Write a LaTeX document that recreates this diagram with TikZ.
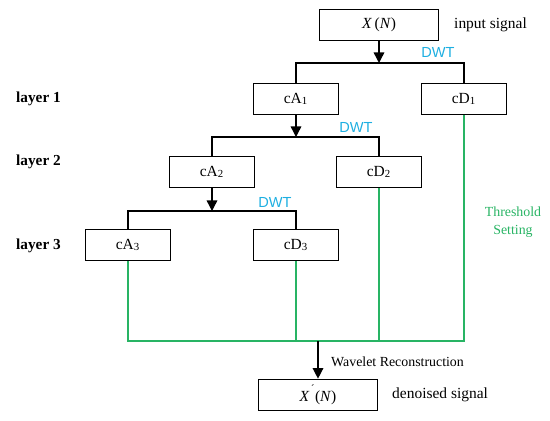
\documentclass[tikz,border=0pt]{standalone}
\usepackage{fontspec}
\setmainfont{Liberation Serif}
\newfontfamily\dwtfont{Liberation Sans}
\usetikzlibrary{arrows.meta,positioning,calc}
\definecolor{dwtblue}{RGB}{30,175,225}
\definecolor{thrgreen}{RGB}{40,180,100}

\begin{document}
\begin{tikzpicture}[x=0.02cm,y=-0.02cm,
  coef/.style={draw,line width=0.95pt,minimum width=1.7cm,minimum height=0.62cm,inner sep=0pt,font=\fontsize{8.8}{10}\selectfont},
  sig/.style={coef,minimum width=2.38cm},
  note/.style={font=\fontsize{8.8}{10}\selectfont,anchor=west},
  layer/.style={font=\fontsize{8.7}{10}\selectfont\bfseries,anchor=west},
  dwt/.style={font=\fontsize{8.3}{10}\dwtfont,text=dwtblue},
  split/.style={-{Triangle[width=6pt,length=6pt]},thick},
  thr/.style={thrgreen,line width=0.75pt}]
  \useasboundingbox (0,0) rectangle (550,420);
  % input signal
  \node[sig] (x) at (379,25) {\textit{X}\,(\textit{N})};
  \node[note] (xin) at (448,25) {input signal};
  % layer 1
  \node[coef] (cA1) at (296,99) {cA\textsubscript{1}};
  \node[coef] (cD1) at (464,99) {cD\textsubscript{1}};
  % layer 2
  \node[coef] (cA2) at (212,172) {cA\textsubscript{2}};
  \node[coef] (cD2) at (379,172) {cD\textsubscript{2}};
  % layer 3
  \node[coef] (cA3) at (128,245) {cA\textsubscript{3}};
  \node[coef] (cD3) at (296,245) {cD\textsubscript{3}};
  % output
  \node[sig] (xr) at (318,395) {\textit{X}\textsuperscript{\,\'{}}(\textit{N})};
  \node[note] (xout) at (386,395) {denoised signal};
  % layer labels
  \node[layer] (l1) at (10,99) {layer 1};
  \node[layer] (l2) at (10,162) {layer 2};
  \node[layer] (l3) at (10,246) {layer 3};
  % decomposition
  \coordinate (b1) at (379,63);
  \coordinate (b2) at (296,137);
  \coordinate (b3) at (212,211);
  \draw[thick] (cA1.north) |- (b1) -| (cD1.north);
  \draw[thick] (cA2.north) |- (b2) -| (cD2.north);
  \draw[thick] (cA3.north) |- (b3) -| (cD3.north);
  \draw[split] (x) -- (b1);
  \draw[split] (cA1) -- (b2);
  \draw[split] (cA2) -- (b3);
  \node[dwt] (dwt1) at (438,52) {DWT};
  \node[dwt] (dwt2) at (356,127) {DWT};
  \node[dwt] (dwt3) at (275,202) {DWT};
  % threshold setting
  \coordinate (rec) at (318,341);
  \draw[thr] (cA3.south) |- (cD1.south |- rec) -- (cD1.south);
  \draw[thr] (cD3.south) -- (cD3.south |- rec);
  \draw[thr] (cD2.south) -- (cD2.south |- rec);
  \node[font=\fontsize{7.9}{10.5}\selectfont,text=thrgreen,align=center] (thr) at (513,222) {Threshold\\Setting};
  % reconstruction
  \draw[split] (rec) -- (xr);
  \node[note,font=\fontsize{7.9}{10}\selectfont] (wr) at (325,362) {Wavelet Reconstruction};
\end{tikzpicture}
\end{document}
